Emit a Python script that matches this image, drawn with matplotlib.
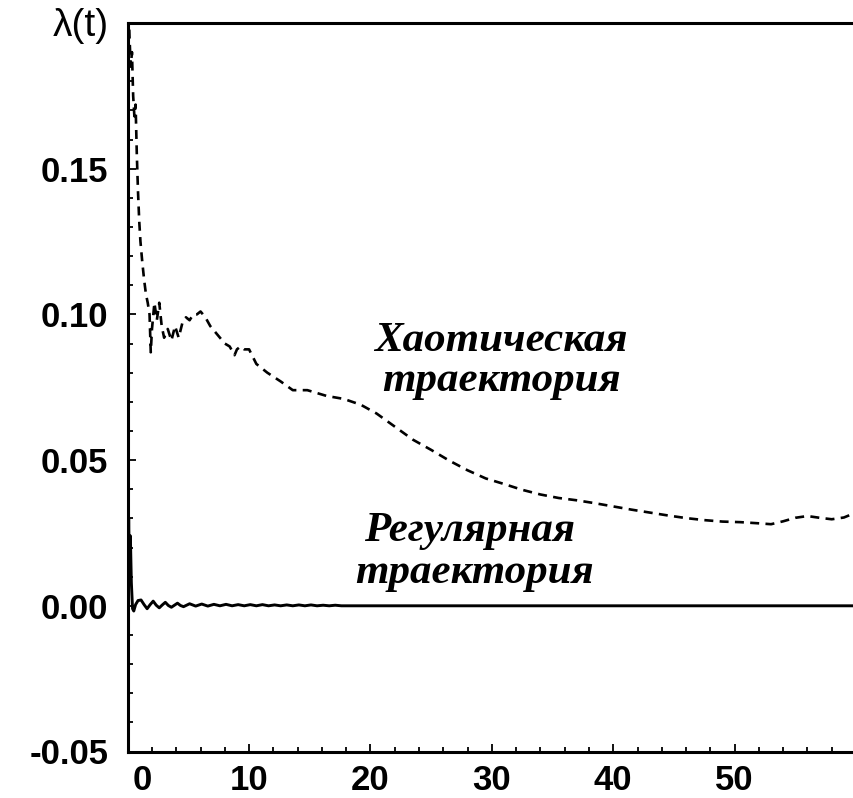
#!/usr/bin/env python3
"""Lyapunov exponent lambda(t) for a chaotic and a regular trajectory."""
import matplotlib
matplotlib.use("Agg")
import matplotlib.pyplot as plt
import matplotlib.transforms as mtransforms
from matplotlib.font_manager import FontProperties
from matplotlib.ticker import MultipleLocator

# chaotic trajectory (dashed)
chaos_t = [0.05, 0.15, 0.25, 0.35, 0.45, 0.55, 0.65, 0.75, 0.85, 0.95,
           1.05, 1.2, 1.35, 1.5, 1.65, 1.8, 1.9, 2.0, 2.2, 2.4,
           2.6, 2.8, 3.0, 3.3, 3.6, 3.9, 4.2, 4.5, 4.8, 5.1,
           5.4, 5.7, 6.0, 6.4, 6.8, 7.2, 7.6, 8.0, 8.4, 8.8,
           9.0, 9.3, 9.6, 10.0, 10.6, 11.5, 12.6, 13.6, 14.8, 16.4,
           17.8, 19.2, 20.5, 21.5, 22.5, 23.5, 25.0, 26.5, 28.0, 29.5,
           31.0, 32.5, 34.0, 35.5, 37.0, 38.5, 40.0, 41.5, 43.0, 44.5,
           46.0, 47.5, 49.0, 50.5, 52.0, 53.0, 54.0, 55.0, 56.0, 57.0,
           58.0, 59.0, 60.0]
chaos_v = [0.210, 0.195, 0.185, 0.190, 0.175, 0.168, 0.172, 0.155, 0.142, 0.132,
           0.125, 0.118, 0.112, 0.107, 0.104, 0.100, 0.087, 0.095, 0.104, 0.098,
           0.104, 0.096, 0.092, 0.095, 0.091, 0.096, 0.092, 0.097, 0.099, 0.098,
           0.100, 0.100, 0.101, 0.099, 0.096, 0.094, 0.092, 0.090, 0.089, 0.086,
           0.088, 0.089, 0.088, 0.088, 0.083, 0.080, 0.077, 0.074, 0.074, 0.072,
           0.071, 0.069, 0.066, 0.063, 0.060, 0.057, 0.0535, 0.0498, 0.0465, 0.0437,
           0.0418, 0.0398, 0.0382, 0.0370, 0.0362, 0.0352, 0.0341, 0.0330, 0.0320, 0.0310,
           0.0301, 0.0294, 0.0289, 0.0287, 0.0283, 0.0280, 0.0290, 0.0302, 0.0308, 0.0302,
           0.0297, 0.0303, 0.0320]

# regular trajectory (solid)
reg_t = [0.0, 0.08, 0.15, 0.22, 0.3, 0.4, 0.5, 0.65, 0.85, 1.1,
         1.35, 1.6, 1.85, 2.1, 2.35, 2.6, 2.85, 3.1, 3.35, 3.6,
         3.85, 4.1, 4.35, 4.6, 5.1, 5.6, 6.1, 6.6, 7.1, 7.6,
         8.1, 8.6, 9.1, 9.6, 10.1, 10.6, 11.1, 11.6, 12.1, 12.6,
         13.1, 13.6, 14.1, 14.6, 15.1, 15.6, 16.1, 16.6, 17.1, 17.6,
         60.0]
reg_v = [0.0, 0.030, 0.012, 0.024, 0.008, -0.001, -0.0018, 0.0004, 0.0018, 0.0020,
         0.0004, -0.0010, 0.0004, 0.0016, 0.0002, -0.0007, 0.0003, 0.0012, 0.0001, -0.0005,
         0.0002, 0.0009, 0.0001, -0.0003, 0.0007, -0.0001, 0.0006, -0.0001, 0.0005, 0.0,
         0.0005, 0.0, 0.0004, 0.0, 0.0004, 0.0, 0.0004, 0.0, 0.0003, 0.0,
         0.0003, 0.0, 0.0003, 0.0, 0.0003, 0.0, 0.0002, 0.0, 0.0002, 0.0,
         0.0]

x_ticks = [0, 10, 20, 30, 40, 50, 60]
y_ticks = [-0.05, 0.00, 0.05, 0.10, 0.15]
y_ticklabels = ["-0.05", "0.00", "0.05", "0.10", "0.15"]

W, H = 854, 798
fig = plt.figure(figsize=(W / 100, H / 100), dpi=100)
# axes run a little past the right edge of the picture, as in the cropped original
x0, x1 = 127.7, 856.0
yb, yt = 46.5, 775.0
ax = fig.add_axes([x0 / W, yb / H, (x1 - x0) / W, (yt - yb) / H])

ax.plot(chaos_t, chaos_v, color="black", lw=1.9, linestyle=(0, (3.4, 2.4)))
ax.plot(reg_t, reg_v, color="black", lw=2.1)

ax.set_xlim(0, 60)
ax.set_ylim(-0.05, 0.20)

for side in ("left", "bottom", "top", "right"):
    ax.spines[side].set_linewidth(2.2)

ax.set_xticks(x_ticks)
ax.set_yticks(y_ticks)
ax.set_yticklabels(y_ticklabels)
ax.xaxis.set_minor_locator(MultipleLocator(2))
ax.yaxis.set_minor_locator(MultipleLocator(0.01))
ax.tick_params(which="both", direction="in", top=False, right=False, width=1.3)
ax.tick_params(which="major", length=6)
ax.tick_params(which="minor", length=3.5)
ax.tick_params(axis="x", which="major", pad=9)
ax.tick_params(axis="y", which="major", pad=14)

tick_font = FontProperties(family="Liberation Sans", size=25, weight="bold")
for lab in ax.get_xticklabels() + ax.get_yticklabels():
    lab.set_fontproperties(tick_font)

# the end labels ("0", "60") sit a bit right of their ticks in the original
shift = mtransforms.ScaledTranslation(15 / 100, 0, fig.dpi_scale_trans)
xlabs = ax.get_xticklabels()
for lab in (xlabs[0], xlabs[-1]):
    lab.set_transform(lab.get_transform() + shift)

fig.text(81 / W, 1 - 26 / H, "λ(t)", ha="center", va="center",
         family="Liberation Sans", fontsize=28)

serif = dict(family="Liberation Serif", style="italic", weight="bold",
             fontsize=31, ha="center", va="baseline")
ax.text(30.7, 0.0876, "Хаотическая", **serif)
ax.text(30.8, 0.0738, "траектория", **serif)
ax.text(28.2, 0.0221, "Регулярная", **serif)
ax.text(28.6, 0.0079, "траектория", **serif)

fig.savefig("out.png", dpi=100)
